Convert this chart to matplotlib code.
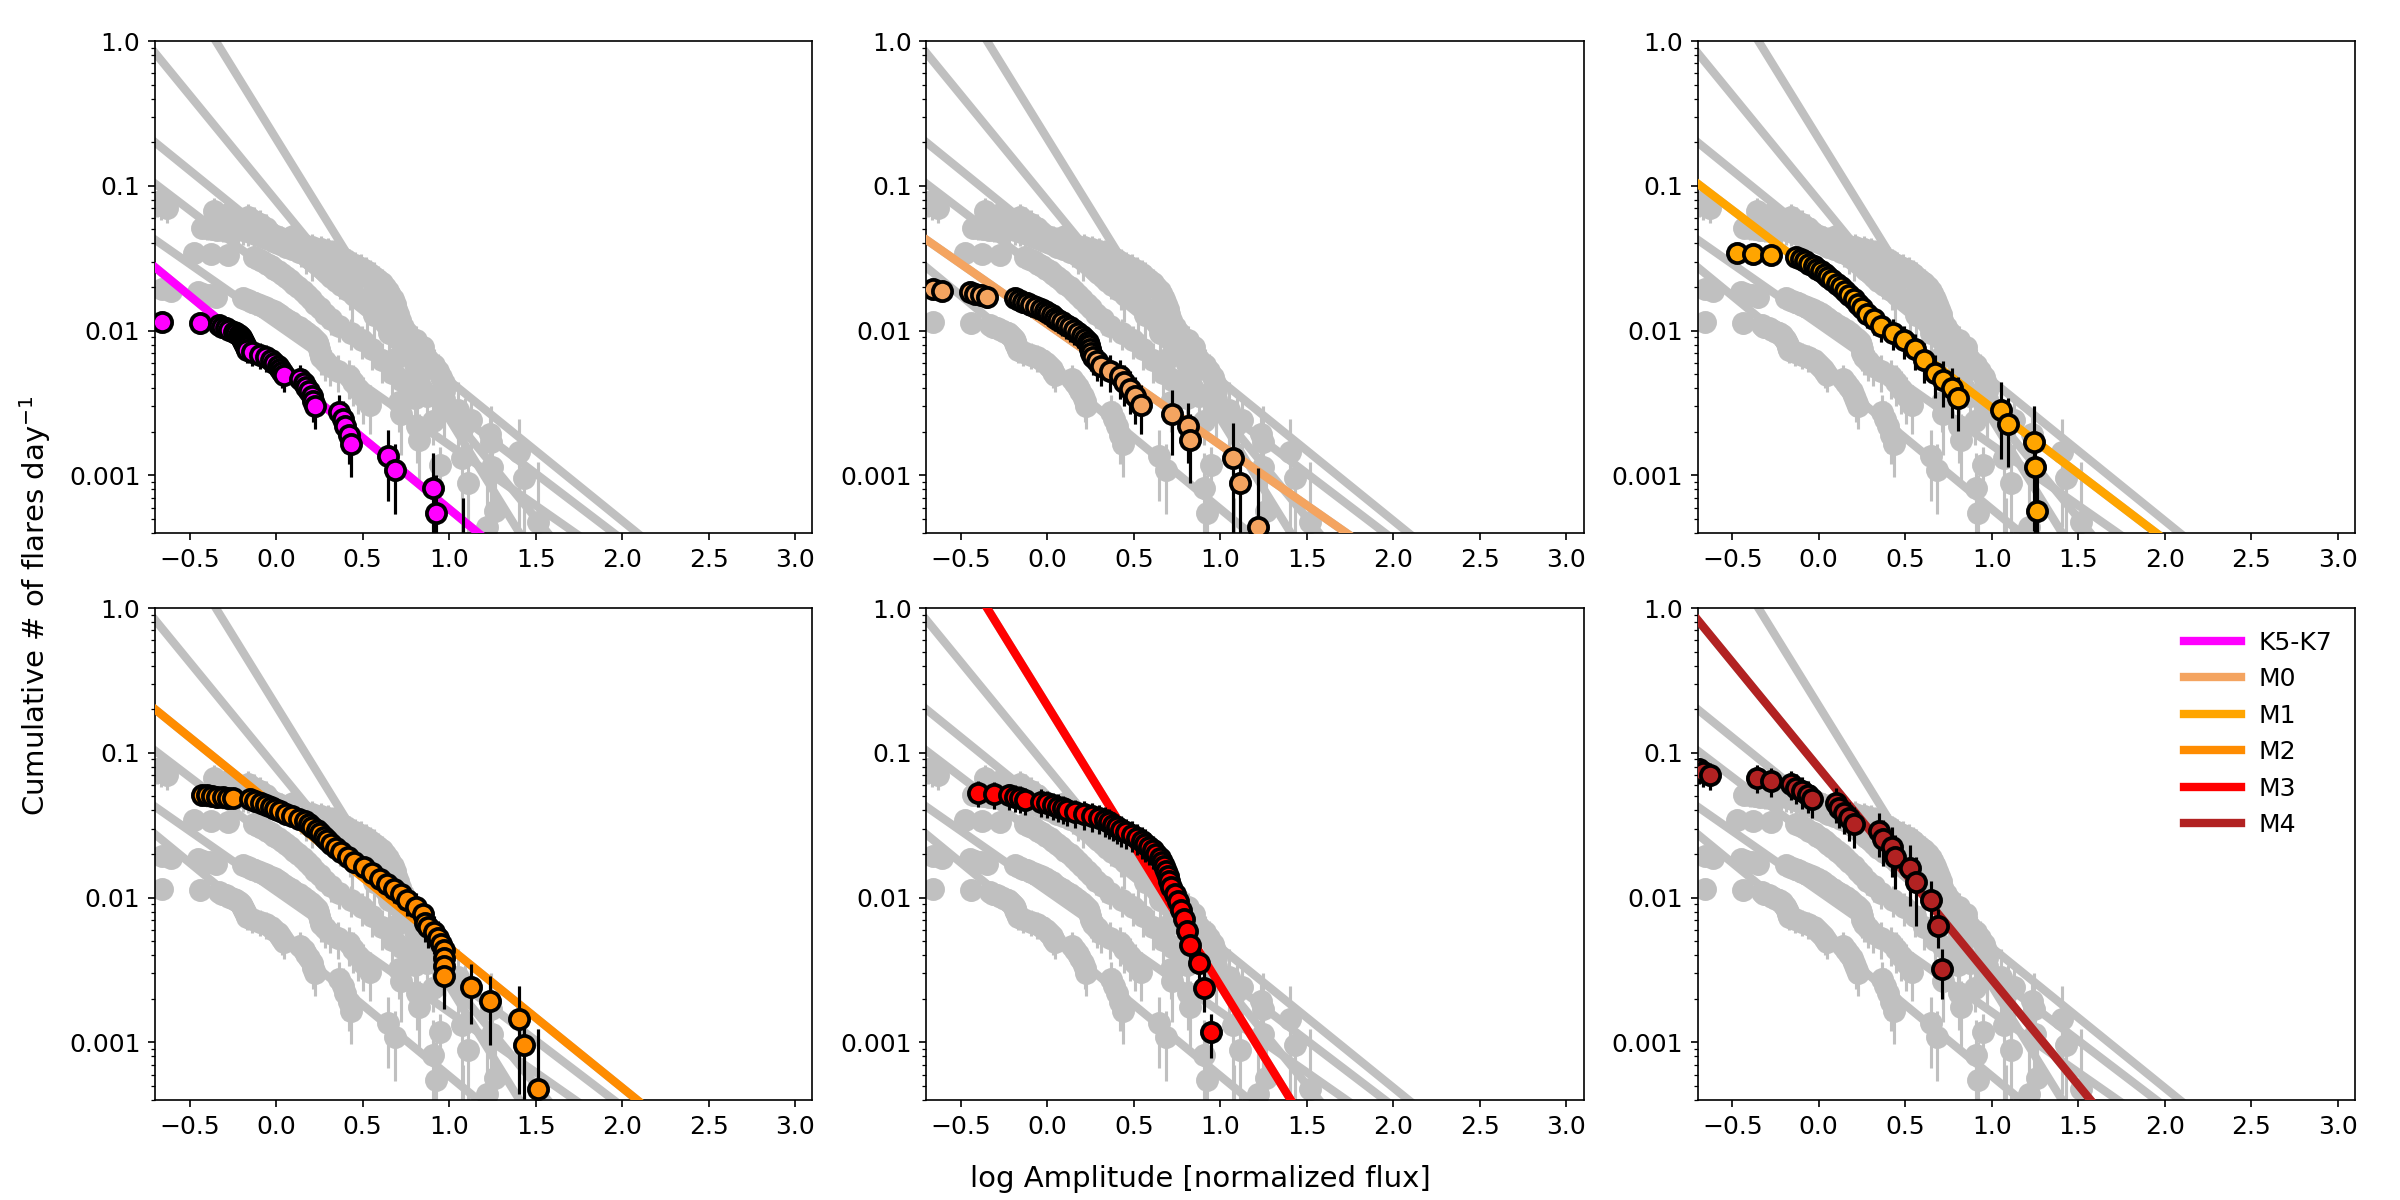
import numpy as np
import matplotlib
matplotlib.use('Agg')
import matplotlib.pyplot as plt
from matplotlib.lines import Line2D
from matplotlib.ticker import NullFormatter

spectral_types = ['K5-K7', 'M0', 'M1', 'M2', 'M3', 'M4']
type_colors = ['#ff00ff', '#f4a460', '#ffa500', '#ff8c00', '#ff0000', '#b22222']

# power-law fits: log10(rate) = fit_intercept + fit_slope * log10(amplitude)
fit_intercept = [-2.25, -1.956, -1.622, -1.377, -0.675, -1.104]
fit_slope = [-0.982, -0.834, -0.910, -0.968, -1.935, -1.46]

# ---- K5-K7 ----
k57_amp = [-0.66, -0.44, -0.33, -0.315, -0.29, -0.27, -0.245, -0.23, -0.215, -0.205,
           -0.195, -0.19, -0.185, -0.18, -0.175, -0.17, -0.14, -0.095, -0.06, -0.03,
           -0.01, 0.01, 0.025, 0.035, 0.045, 0.14, 0.16, 0.175, 0.19, 0.205,
           0.215, 0.225, 0.365, 0.385, 0.40, 0.42, 0.435, 0.647, 0.685, 0.907,
           0.922, 1.08]
k57_rate = [0.01149, 0.01121, 0.01094, 0.01067, 0.01039, 0.01012, 0.00985, 0.00957, 0.00930, 0.00903,
            0.00875, 0.00848, 0.00821, 0.00793, 0.00766, 0.00738, 0.00711, 0.00684, 0.00656, 0.00629,
            0.00602, 0.00574, 0.00547, 0.00520, 0.00492, 0.00465, 0.00438, 0.00410, 0.00383, 0.00356,
            0.00328, 0.00301, 0.00274, 0.00246, 0.00219, 0.00191, 0.00164, 0.00137, 0.00109, 0.00082,
            0.00055, 0.00027]
k57_err = [0.00177, 0.00175, 0.00173, 0.00171, 0.00169, 0.00166, 0.00164, 0.00162, 0.00159, 0.00157,
           0.00155, 0.00152, 0.00150, 0.00147, 0.00145, 0.00142, 0.00139, 0.00137, 0.00134, 0.00131,
           0.00128, 0.00125, 0.00122, 0.00119, 0.00116, 0.00113, 0.00109, 0.00106, 0.00102, 0.00099,
           0.00095, 0.00091, 0.00088, 0.00082, 0.00077, 0.00072, 0.00067, 0.00070, 0.00055, 0.00061,
           0.00045, 0.00043]

# ---- M0 ----
m0_amp = [-0.66, -0.61, -0.45, -0.42, -0.385, -0.35, -0.19, -0.165, -0.14, -0.12,
          -0.095, -0.065, -0.04, -0.015, 0.005, 0.025, 0.045, 0.062, 0.085, 0.105,
          0.13, 0.155, 0.178, 0.20, 0.22, 0.237, 0.243, 0.248, 0.252, 0.262,
          0.285, 0.312, 0.36, 0.42, 0.445, 0.475, 0.505, 0.54, 0.72, 0.812,
          0.825, 1.072, 1.111, 1.217]
m0_rate = [0.01936, 0.01892, 0.01848, 0.01804, 0.0176, 0.01716, 0.01672, 0.01628, 0.01584, 0.0154,
           0.01496, 0.01452, 0.01408, 0.01364, 0.0132, 0.01276, 0.01232, 0.01188, 0.01144, 0.011,
           0.01056, 0.01012, 0.00968, 0.00924, 0.0088, 0.00836, 0.00792, 0.00748, 0.00704, 0.0066,
           0.00616, 0.00572, 0.00528, 0.00484, 0.0044, 0.00396, 0.00352, 0.00308, 0.00264, 0.0022,
           0.00176, 0.00132, 0.00088, 0.00044]
m0_err = [0.00292, 0.00289, 0.00285, 0.00282, 0.00278, 0.00275, 0.00271, 0.00268, 0.00264, 0.0026,
          0.00257, 0.00253, 0.00249, 0.00245, 0.00241, 0.00237, 0.00233, 0.00229, 0.00224, 0.0022,
          0.00216, 0.00211, 0.00206, 0.00202, 0.00197, 0.00192, 0.00187, 0.00181, 0.00176, 0.0017,
          0.00165, 0.00159, 0.00152, 0.00146, 0.00139, 0.00132, 0.00124, 0.00116, 0.00125, 0.00098,
          0.00088, 0.001, 0.00062, 0.00069]

# ---- M1 ----
m1_amp = [-0.475, -0.378, -0.277, -0.13, -0.105, -0.08, -0.055, -0.03, -0.01, 0.012,
          0.034, 0.056, 0.078, 0.103, 0.128, 0.153, 0.177, 0.202, 0.227, 0.251,
          0.28, 0.32, 0.362, 0.43, 0.495, 0.555, 0.61, 0.67, 0.72, 0.77,
          0.805, 1.051, 1.093, 1.244, 1.248, 1.263]
m1_rate = [0.0342, 0.03363, 0.03306, 0.03249, 0.03135, 0.03021, 0.02907, 0.02793, 0.02679, 0.02565,
           0.02451, 0.02337, 0.02223, 0.02109, 0.01995, 0.01881, 0.01767, 0.01653, 0.01539, 0.01425,
           0.01311, 0.01197, 0.01083, 0.00969, 0.00855, 0.00741, 0.00627, 0.00513, 0.00456, 0.00399,
           0.00342, 0.00285, 0.00228, 0.00171, 0.00114, 0.00057]
m1_err = [0.00442, 0.00438, 0.00434, 0.0043, 0.00423, 0.00415, 0.00407, 0.00399, 0.00391, 0.00382,
          0.00374, 0.00365, 0.00356, 0.00347, 0.00337, 0.00327, 0.00317, 0.00307, 0.00296, 0.00285,
          0.00273, 0.00261, 0.00248, 0.00235, 0.00221, 0.00206, 0.00189, 0.00171, 0.00161, 0.00151,
          0.0014, 0.00155, 0.00114, 0.0013, 0.00081, 0.00056]

# ---- M2 ----
m2_amp = [-0.43, -0.40, -0.37, -0.34, -0.31, -0.28, -0.25, -0.152, -0.12, -0.09,
          -0.06, -0.03, -0.005, 0.025, 0.055, 0.09, 0.13, 0.165, 0.19, 0.21,
          0.235, 0.255, 0.275, 0.295, 0.32, 0.345, 0.375, 0.415, 0.45, 0.508,
          0.555, 0.6, 0.64, 0.68, 0.72, 0.758, 0.81, 0.85, 0.86, 0.875,
          0.91, 0.935, 0.955, 0.968, 0.972, 0.973, 0.972, 1.127, 1.234, 1.405,
          1.432, 1.515]
m2_rate = [0.05136, 0.05088, 0.0504, 0.04992, 0.04944, 0.04896, 0.04848, 0.048, 0.04656, 0.04512,
           0.04368, 0.04224, 0.0408, 0.03936, 0.03792, 0.03648, 0.03504, 0.0336, 0.03216, 0.03072,
           0.02928, 0.02784, 0.0264, 0.02496, 0.02352, 0.02208, 0.02064, 0.0192, 0.01776, 0.01632,
           0.01488, 0.01344, 0.01248, 0.01152, 0.01056, 0.0096, 0.00864, 0.00768, 0.00672, 0.00624,
           0.00576, 0.00528, 0.0048, 0.00432, 0.00384, 0.00336, 0.00288, 0.0024, 0.00192, 0.00144,
           0.00096, 0.00048]
m2_err = [0.00497, 0.00494, 0.00492, 0.0049, 0.00487, 0.00485, 0.00482, 0.0048, 0.00473, 0.00465,
          0.00458, 0.0045, 0.00443, 0.00435, 0.00427, 0.00418, 0.0041, 0.00402, 0.00393, 0.00384,
          0.00375, 0.00366, 0.00356, 0.00346, 0.00336, 0.00326, 0.00315, 0.00304, 0.00292, 0.0028,
          0.00267, 0.00254, 0.00245, 0.00235, 0.00225, 0.00215, 0.00204, 0.00192, 0.0018, 0.00173,
          0.00166, 0.00159, 0.00152, 0.00144, 0.00136, 0.00127, 0.00118, 0.00107, 0.00096, 0.001,
          0.00068, 0.00075]

# ---- M3 ----
m3_amp = [-0.40, -0.31, -0.22, -0.19, -0.16, -0.13, -0.04, 0.0, 0.03, 0.06,
          0.09, 0.116, 0.16, 0.21, 0.26, 0.30, 0.33, 0.355, 0.38, 0.405,
          0.424, 0.455, 0.49, 0.52, 0.545, 0.565, 0.588, 0.61, 0.63, 0.648,
          0.66, 0.675, 0.685, 0.695, 0.705, 0.715, 0.735, 0.755, 0.77, 0.79,
          0.805, 0.822, 0.874, 0.905, 0.947]
m3_rate = [0.0531, 0.05192, 0.05074, 0.04956, 0.04838, 0.0472, 0.04602, 0.04484, 0.04366, 0.04248,
           0.0413, 0.04012, 0.03894, 0.03776, 0.03658, 0.0354, 0.03422, 0.03304, 0.03186, 0.03068,
           0.0295, 0.02832, 0.02714, 0.02596, 0.02478, 0.0236, 0.02242, 0.02124, 0.02006, 0.01888,
           0.0177, 0.01652, 0.01534, 0.01416, 0.01298, 0.0118, 0.01062, 0.00944, 0.00826, 0.00708,
           0.0059, 0.00472, 0.00354, 0.00236, 0.00118]
m3_err = [0.011, 0.0108, 0.0106, 0.0104, 0.0102, 0.01, 0.0098, 0.0096, 0.0094, 0.0092,
          0.009, 0.0088, 0.0086, 0.0084, 0.0082, 0.008, 0.0078, 0.0076, 0.0074, 0.0072,
          0.007, 0.0068, 0.0066, 0.0064, 0.0062, 0.006, 0.0057, 0.0054, 0.0051, 0.0048,
          0.0045, 0.0042, 0.0039, 0.0036, 0.0033, 0.003, 0.0027, 0.0024, 0.0021, 0.0018,
          0.0016, 0.0014, 0.0011, 0.00075, 0.0004]

# ---- M4 ----
m4_amp = [-0.69, -0.667, -0.63, -0.359, -0.276, -0.16, -0.13, -0.095, -0.06, -0.04,
          0.10, 0.12, 0.145, 0.175, 0.205, 0.35, 0.37, 0.425, 0.44, 0.526,
          0.564, 0.651, 0.69, 0.713]
m4_rate = [0.0768, 0.0736, 0.0704, 0.0672, 0.064, 0.0608, 0.0576, 0.0544, 0.0512, 0.048,
           0.0448, 0.0416, 0.0384, 0.0352, 0.032, 0.0288, 0.0256, 0.0224, 0.0192, 0.016,
           0.0128, 0.0096, 0.0064, 0.0032]
m4_err = [0.0157, 0.0153, 0.015, 0.0147, 0.0143, 0.0139, 0.0136, 0.0132, 0.0128, 0.0124,
          0.012, 0.0115, 0.0111, 0.0106, 0.0101, 0.0096, 0.009, 0.0085, 0.0078, 0.0072,
          0.0064, 0.0035, 0.0019, 0.0012]

series_amp = [k57_amp, m0_amp, m1_amp, m2_amp, m3_amp, m4_amp]
series_rate = [k57_rate, m0_rate, m1_rate, m2_rate, m3_rate, m4_rate]
series_err = [k57_err, m0_err, m1_err, m2_err, m3_err, m4_err]

x_ticks = [-0.5, 0.0, 0.5, 1.0, 1.5, 2.0, 2.5, 3.0]
y_ticks = [0.001, 0.01, 0.1, 1.0]
y_ticklabels = ['0.001', '0.01', '0.1', '1.0']

grey = '#c0c0c0'
MS = 9.2
MEW = 1.8
LW = 4

fig, axes = plt.subplots(2, 3, figsize=(16, 8), dpi=150)
fig.subplots_adjust(left=0.0646, right=0.98125, bottom=0.0833, top=0.9658,
                    wspace=0.1733, hspace=0.1524)

x_fit = np.array([-0.8, 3.2])

for i, ax in enumerate(axes.flat):
    ax.set_yscale('log', nonpositive='clip')
    for j in range(6):
        ax.errorbar(series_amp[j], series_rate[j], yerr=series_err[j], fmt='o',
                    ms=MS, mfc=grey, mec=grey, mew=MEW, ecolor=grey,
                    elinewidth=1.5, zorder=1)
        ax.plot(x_fit, 10 ** (fit_intercept[j] + fit_slope[j] * x_fit),
                color=grey, lw=LW, zorder=1.5)
    ax.plot(x_fit, 10 ** (fit_intercept[i] + fit_slope[i] * x_fit),
            color=type_colors[i], lw=LW, zorder=3)
    ax.errorbar(series_amp[i], series_rate[i], yerr=series_err[i], fmt='o',
                ms=MS, mfc=type_colors[i], mec='black', mew=MEW, ecolor='black',
                elinewidth=1.5, zorder=4)
    ax.set_xlim(-0.7, 3.1)
    ax.set_ylim(4e-4, 1.0)
    ax.set_xticks(x_ticks)
    ax.set_yticks(y_ticks)
    ax.set_yticklabels(y_ticklabels)
    ax.yaxis.set_minor_formatter(NullFormatter())
    ax.tick_params(axis='both', which='major', labelsize=12)

handles = [Line2D([], [], color=c, lw=LW) for c in type_colors]
axes[1, 2].legend(handles, spectral_types, loc='upper right', frameon=False,
                  fontsize=12, handlelength=2.3, handletextpad=0.7)

fig.text(0.5, 0.0175, 'log Amplitude [normalized flux]', ha='center', va='center',
         fontsize=14)
fig.text(0.0145, 0.495, 'Cumulative # of flares day$^{-1}$', ha='center', va='center',
         rotation=90, fontsize=14)

fig.savefig('out.png', dpi=150)
